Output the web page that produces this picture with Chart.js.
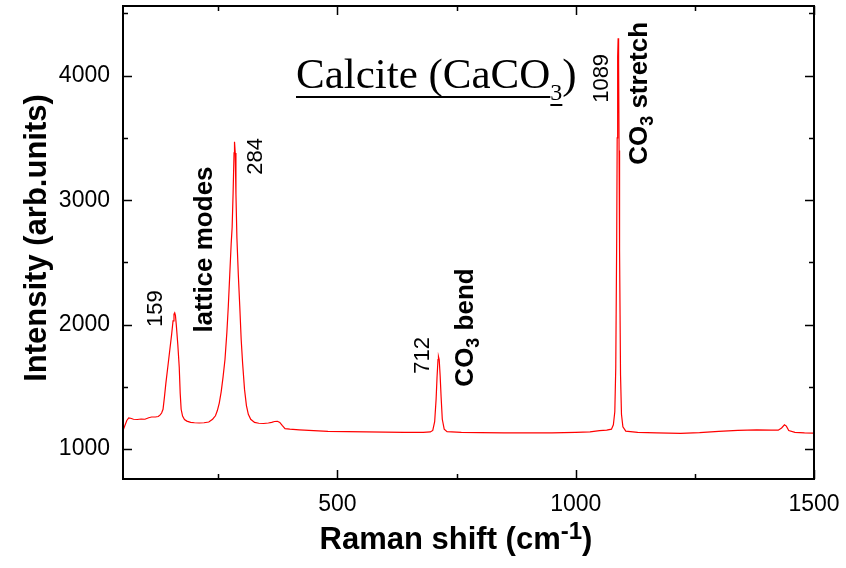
<!DOCTYPE html>
<html>
<head>
<meta charset="utf-8">
<script src="https://cdn.jsdelivr.net/npm/chart.js@4/dist/chart.umd.min.js"></script>
<style>
  body { margin: 0; background: #fff; }
  canvas { display: block; }
</style>
</head>
<body>
<canvas id="ramanChart" width="846" height="568"></canvas>
<script>
// Raman spectrum of calcite
const ramanShift = [
  50, 54, 58, 62, 66, 72, 80, 88, 96, 104, 110, 118, 124, 128, 131, 134, 137, 140, 144, 148,
  152, 155, 157, 158.5, 160, 162, 165, 168, 170, 172, 175, 179, 184, 192, 200, 210, 220, 230, 238, 244,
  248, 252, 256, 260, 264, 268, 271, 274, 277, 279, 281, 283, 284, 285.5, 287, 289, 292, 295, 298, 301,
  305, 309, 313, 318, 326, 335, 345, 355, 362, 368, 374, 379, 384, 390, 400, 420, 450, 480, 520, 560,
  600, 640, 680, 695, 700, 704, 707, 709, 711, 712, 713.5, 715.5, 717.5, 720, 724, 730, 760, 800, 850, 900,
  950, 1000, 1030, 1050, 1065, 1075, 1079, 1082, 1084, 1086, 1087, 1088, 1089, 1090, 1091, 1092, 1094, 1096, 1099, 1105,
  1130, 1170, 1220, 1260, 1300, 1340, 1380, 1410, 1425, 1432, 1438, 1442, 1447, 1460, 1480, 1500
];
const intensity = [
  1150, 1190, 1230, 1250, 1248, 1240, 1238, 1242, 1240, 1252, 1258, 1258, 1262, 1275, 1290, 1320, 1420, 1530, 1660, 1790,
  1920, 2030, 2085, 2095, 2075, 1990, 1840, 1660, 1450, 1320, 1265, 1238, 1225, 1215, 1212, 1210, 1212, 1218, 1240, 1268,
  1310, 1370, 1460, 1580, 1720, 1940, 2150, 2400, 2650, 2780, 3050, 3380, 3470, 3380, 3050, 2700, 2400, 2150, 1880, 1690,
  1480, 1350, 1280, 1240, 1215, 1208, 1206, 1210, 1215, 1222, 1224, 1215, 1190, 1165, 1160, 1155, 1148, 1142, 1140, 1138,
  1136, 1134, 1134, 1138, 1150, 1220, 1400, 1580, 1720, 1744, 1720, 1590, 1420, 1240, 1160, 1140, 1135, 1132, 1130, 1130,
  1131, 1134, 1138, 1148, 1152, 1160, 1195, 1300, 1650, 2700, 3500, 4150, 4300, 4100, 3400, 2600, 1600, 1280, 1180, 1145,
  1135, 1130, 1127, 1132, 1142, 1150, 1154, 1152, 1152, 1170, 1196, 1185, 1150, 1135, 1130, 1128
];

const xTicks = [500, 1000, 1500];
const xMinorTicks = [250, 750, 1250];
const yTicks = [1000, 2000, 3000, 4000];
const yMinorTicks = [1500, 2500, 3500, 4500];

// peak labels: [x, y, text, subscript, rest, bold]
const peakLabels = [
  [120, 1982, "159", "", "", false],
  [221, 1936, "lattice modes", "", "", true],
  [329, 3204, "284", "", "", false],
  [679, 1605, "712", "", "", false],
  [770, 1502, "CO", "3", " bend", true],
  [1054, 3782, "1089", "", "", false],
  [1134, 3284, "CO", "3", " stretch", true]
];

const SANS = '"Liberation Sans", Arial, sans-serif';
const SERIF = '"Liberation Serif", "Times New Roman", serif';

const decorations = {
  id: "decorations",
  afterDraw(chart) {
    const ctx = chart.ctx;
    const a = chart.chartArea;
    const xs = chart.scales.x, ys = chart.scales.y;
    ctx.save();
    ctx.strokeStyle = "#000";
    ctx.fillStyle = "#000";

    // frame
    ctx.lineWidth = 2;
    ctx.strokeRect(a.left, a.top, a.right - a.left, a.bottom - a.top);

    // inward ticks on all four sides
    ctx.lineWidth = 1.5;
    function xt(v, len) {
      const p = Math.round(xs.getPixelForValue(v)) + 0.5;
      ctx.beginPath();
      ctx.moveTo(p, a.bottom); ctx.lineTo(p, a.bottom - len);
      ctx.moveTo(p, a.top); ctx.lineTo(p, a.top + len);
      ctx.stroke();
    }
    function yt(v, len) {
      const p = Math.round(ys.getPixelForValue(v)) + 0.5;
      ctx.beginPath();
      ctx.moveTo(a.left, p); ctx.lineTo(a.left + len, p);
      ctx.moveTo(a.right, p); ctx.lineTo(a.right - len, p);
      ctx.stroke();
    }
    xTicks.forEach(v => xt(v, 9));
    xMinorTicks.forEach(v => xt(v, 5));
    yTicks.forEach(v => yt(v, 9));
    yMinorTicks.forEach(v => yt(v, 5));

    // axis titles
    ctx.textBaseline = "alphabetic";
    ctx.font = "bold 31px " + SANS;
    const t1 = "Raman shift (cm";
    const w1 = ctx.measureText(t1).width;
    ctx.font = "bold 24px " + SANS;
    const wSup = ctx.measureText("-1").width;
    ctx.font = "bold 31px " + SANS;
    const w3 = ctx.measureText(")").width;
    let x0 = 456 - (w1 + wSup + w3) / 2;
    const by = 549;
    ctx.textAlign = "left";
    ctx.fillText(t1, x0, by);
    ctx.font = "bold 24px " + SANS;
    ctx.fillText("-1", x0 + w1, by - 10);
    ctx.font = "bold 31px " + SANS;
    ctx.fillText(")", x0 + w1 + wSup, by);

    ctx.save();
    ctx.translate(46, 238);
    ctx.rotate(-Math.PI / 2);
    ctx.textAlign = "center";
    ctx.font = "bold 31px " + SANS;
    ctx.fillText("Intensity (arb.units)", 0, 0);
    ctx.restore();

    // peak labels, written bottom-to-top
    peakLabels.forEach(([vx, vy, txt, sub, rest, bold]) => {
      const px = xs.getPixelForValue(vx);
      const py = ys.getPixelForValue(vy);
      const size = bold ? 26 : 22;
      const main = (bold ? "bold " : "") + size + "px " + SANS;
      const small = (bold ? "bold " : "") + Math.round(size * 0.7) + "px " + SANS;
      ctx.save();
      ctx.translate(px, py);
      ctx.rotate(-Math.PI / 2);
      ctx.textAlign = "left";
      ctx.textBaseline = "middle";
      ctx.font = main;
      ctx.fillText(txt, 0, 0);
      let off = ctx.measureText(txt).width;
      if (sub) {
        ctx.font = small;
        ctx.fillText(sub, off, 8);
        off += ctx.measureText(sub).width;
        ctx.font = main;
        ctx.fillText(rest, off, 0);
      }
      ctx.restore();
    });

    // plot title with underline
    ctx.textAlign = "left";
    ctx.textBaseline = "alphabetic";
    const tx = 296, tb = 88;
    ctx.font = "43px " + SERIF;
    const head = "Calcite (CaCO";
    ctx.fillText(head, tx, tb);
    const wh = ctx.measureText(head).width;
    ctx.font = "24px " + SERIF;
    ctx.fillText("3", tx + wh, tb + 12);
    const ws = ctx.measureText("3").width;
    ctx.font = "43px " + SERIF;
    ctx.fillText(")", tx + wh + ws, tb);
    ctx.fillRect(tx, tb + 8, wh, 2);
    ctx.fillRect(tx + wh, tb + 16, ws, 2);

    ctx.restore();
  }
};

const points = ramanShift.map((x, i) => ({ x: x, y: intensity[i] }));

new Chart(document.getElementById("ramanChart"), {
  type: "line",
  data: {
    datasets: [{
      data: points,
      borderColor: "#ff0000",
      borderWidth: 1.2,
      pointRadius: 0,
      tension: 0,
      fill: false
    }]
  },
  options: {
    responsive: false,
    animation: false,
    layout: { padding: { top: 6, right: 32, left: 0, bottom: 0 } },
    plugins: { legend: { display: false }, tooltip: { enabled: false } },
    scales: {
      x: {
        type: "linear",
        min: 50,
        max: 1500,
        grid: { display: false, drawTicks: false },
        border: { display: false },
        ticks: { color: "#000", padding: 12, font: { family: SANS, size: 23 }, callback: v => String(v) },
        afterBuildTicks: s => { s.ticks = xTicks.map(v => ({ value: v })); },
        afterFit: s => { s.height = 89; s.paddingLeft = 0; s.paddingRight = 0; }
      },
      y: {
        min: 760,
        max: 4560,
        grid: { display: false, drawTicks: false },
        border: { display: false },
        ticks: { color: "#000", padding: 13, font: { family: SANS, size: 23 }, callback: v => String(v) },
        afterBuildTicks: s => { s.ticks = yTicks.map(v => ({ value: v })); },
        afterFit: s => { s.width = 123; s.paddingTop = 0; s.paddingBottom = 0; }
      }
    }
  },
  plugins: [decorations]
});
</script>
</body>
</html>
